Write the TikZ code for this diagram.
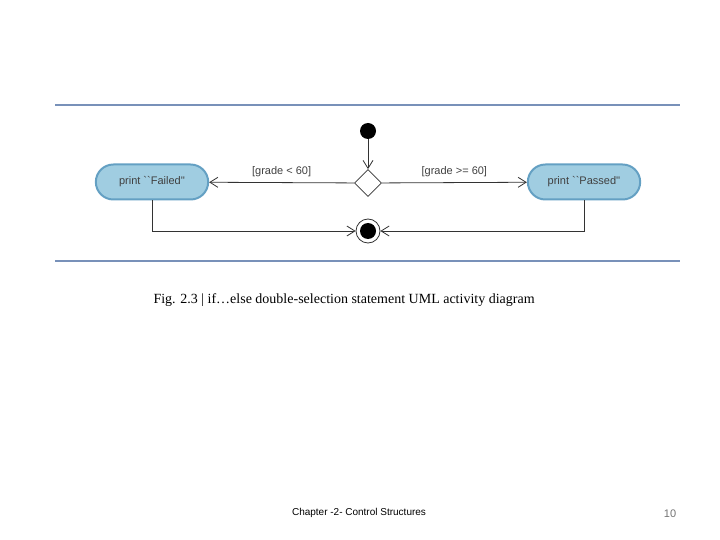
\documentclass[tikz,border=0pt]{standalone}
\usepackage{fontspec}
\setmainfont{Liberation Serif}
\newfontfamily\sansf{Liberation Sans}
\usetikzlibrary{shapes.geometric,arrows.meta}
\definecolor{rule}{RGB}{120,145,185}
\definecolor{fillb}{RGB}{160,205,225}
\definecolor{edgeb}{RGB}{100,160,195}
\begin{document}
\begin{tikzpicture}[x=1pt,y=-1pt,
  act/.style={rounded rectangle, minimum width=119pt, minimum height=35pt, fill=fillb, draw=edgeb, line width=2pt, font=\sansf\fontsize{11}{13}\selectfont, text=black!75},
  flow/.style={draw=black!80, line width=0.8pt, -{Straight Barb[length=8pt,width=10pt]}},
  lbl/.style={font=\sansf\fontsize{11}{13}\selectfont, text=black!75}]
\useasboundingbox (0,0) rectangle (720,540);
\usetikzlibrary{shapes.misc}
\draw[rule, line width=1.2pt] (55,105) -- (680,105);
\draw[rule, line width=1.2pt] (55,261) -- (680,261);
\node[circle, fill=black, inner sep=0, minimum size=16pt] (start) at (368,131) {};
\node[diamond, draw=black!80, line width=0.8pt, inner sep=0, minimum size=27pt, fill=white] (dec) at (368,183) {};
\node[act] (fail) at (152,182) {print ``Failed''};
\node[act] (pass) at (584,182) {print ``Passed''};
\node[circle, draw=black!80, line width=0.8pt, inner sep=0, minimum size=24pt] (end) at (368,231) {};
\node[circle, fill=black, inner sep=0, minimum size=16pt] at (end) {};
\draw[flow] (start) -- (dec);
\draw[flow] (dec) -- node[lbl, above=2pt]{[grade < 60]} (fail);
\draw[flow] (dec) -- node[lbl, above=2pt]{[grade >= 60]} (pass);
\draw[flow] (fail.south) |- (end);
\draw[flow] (pass.south) |- (end);
\node[anchor=west, font=\fontsize{14}{16}\selectfont] (cap) at (150,300) {Fig. 2.3 | if…else double-selection statement UML activity diagram};
\node[font=\sansf\fontsize{10}{12}\selectfont] (foot) at (359,513) {Chapter -2- Control Structures};
\node[font=\sansf\fontsize{11}{13}\selectfont, text=black!55] (pg) at (670,514) {10};
\end{tikzpicture}
\end{document}
